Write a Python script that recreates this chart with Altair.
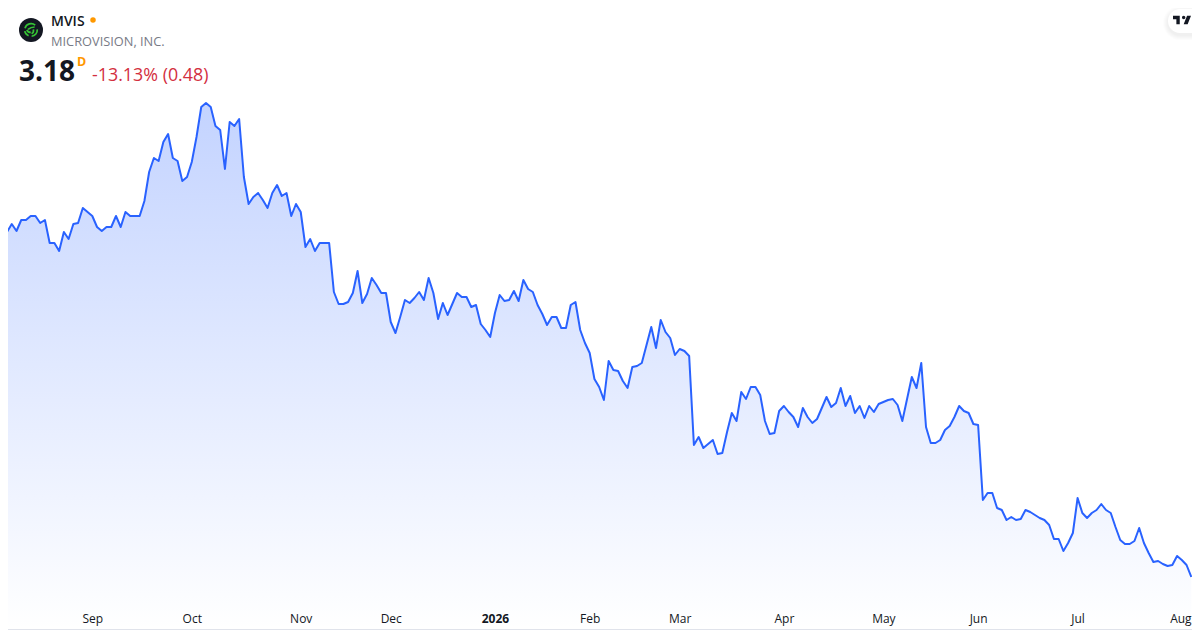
import altair as alt
import pandas as pd

prices = [
16.86,16.98,17.30,17.02,17.46,17.46,17.62,17.62,17.34,17.46,16.54,16.54,16.22,16.98,16.70,17.30,17.34,17.94,17.78,17.62,
17.18,17.02,17.18,17.18,17.62,17.18,17.78,17.62,17.62,17.62,18.22,19.38,19.94,19.82,20.58,20.90,19.94,19.82,19.02,19.18,
19.78,20.78,21.98,22.14,21.98,21.22,21.06,19.50,21.38,21.22,21.50,19.18,18.10,18.38,18.54,18.26,17.94,18.54,18.86,18.42,
18.54,17.62,18.10,17.78,16.38,16.70,16.22,16.54,16.54,16.54,14.58,14.10,14.10,14.18,14.54,15.42,14.14,14.50,15.14,14.86,
14.54,14.54,13.38,12.94,13.58,14.26,14.14,14.34,14.58,14.26,15.14,14.54,13.50,14.14,13.66,14.10,14.54,14.38,14.38,13.98,
14.06,13.30,13.06,12.78,13.74,14.46,14.22,14.26,14.62,14.22,15.06,14.70,14.58,14.06,13.70,13.26,13.58,13.58,13.14,13.14,
14.06,14.18,13.06,12.54,12.14,11.10,10.78,10.26,11.82,11.46,11.42,11.02,10.74,11.58,11.62,11.74,12.46,13.18,12.34,13.46,
12.98,12.74,12.06,12.30,12.22,12.02,8.46,8.78,8.34,8.50,8.66,8.10,8.14,8.98,9.74,9.42,10.58,10.30,10.78,10.78,
10.46,9.42,8.90,8.94,9.82,10.02,9.78,9.58,9.18,9.94,9.58,9.34,9.50,9.94,10.38,9.98,10.14,10.74,10.02,10.42,
9.74,10.02,9.54,10.02,9.78,10.10,10.18,10.26,10.30,10.06,9.42,10.30,11.18,10.74,11.74,9.18,8.54,8.54,8.66,9.06,
9.22,9.58,10.02,9.82,9.74,9.30,9.26,6.26,6.54,6.54,5.94,5.86,5.46,5.58,5.46,5.50,5.86,5.78,5.66,5.54,
5.46,5.26,4.70,4.70,4.22,4.54,4.94,6.34,5.74,5.54,5.74,5.86,6.10,5.86,5.74,5.18,4.66,4.50,4.50,4.62,
5.14,4.54,4.14,3.78,3.82,3.70,3.62,3.66,4.02,3.86,3.66,3.18,
]
tick_positions = [19, 40, 63, 82, 104, 124, 143, 165, 186, 206, 227, 248.7]
tick_labels = ["Sep", "Oct", "Nov", "Dec", "2026", "Feb", "Mar", "Apr", "May", "Jun", "Jul", "Aug"]

FONT = "Open Sans"
W, H = 1200, 630
df = pd.DataFrame({"i": list(range(len(prices))), "p": prices, "base": [1.06] * len(prices)})

label_map = "{" + ",".join(f'"{p}":"{l}"' for p, l in zip(tick_positions, tick_labels)) + "}"
x_scale = alt.Scale(domain=[-0.485, 252.84], nice=False, zero=False)
y_scale = alt.Scale(domain=[1.06, 26.26], nice=False, zero=False)

x_enc = alt.X("i:Q", scale=x_scale, axis=alt.Axis(
    values=tick_positions, title=None, grid=False, domain=False, ticks=False,
    labelExpr=f"{label_map}[datum.value]", labelFont=FONT, labelFontSize=12,
    labelColor="#131722", labelPadding=0, labelFlush=False, labelOverlap=False,
    offset=-17, labelFontWeight=alt.condition("datum.value == 104", alt.value("bold"), alt.value("normal"))))
y_enc = alt.Y("p:Q", scale=y_scale, axis=None)

area = alt.Chart(df).mark_area(
    line=False,
    color=alt.Gradient(gradient="linear", x1=0, x2=0, y1=0, y2=1, stops=[
        alt.GradientStop(color="rgba(41,98,255,0.28)", offset=0),
        alt.GradientStop(color="rgba(41,98,255,0.0)", offset=1),
    ])).encode(x=x_enc, y=y_enc, y2="base:Q")
line = alt.Chart(df).mark_line(color="#2962ff", strokeWidth=2, strokeJoin="round").encode(
    x=alt.X("i:Q", scale=x_scale), y=y_enc)

def txt(s, x, y, size, color, weight="normal", **kw):
    return alt.Chart(pd.DataFrame({"t": [s]})).mark_text(
        font=FONT, fontSize=size, color=color, fontWeight=weight, align="left", baseline="alphabetic", **kw
    ).encode(x=alt.value(x), y=alt.value(y), text="t:N")

def dot(x, y, size, color, **kw):
    return alt.Chart(pd.DataFrame({"a": [0]})).mark_point(filled=True, color=color, size=size, opacity=1, **kw).encode(
        x=alt.value(x), y=alt.value(y))

def box(x, x2, y, y2, **kw):
    return alt.Chart(pd.DataFrame({"a": [0]})).mark_rect(**kw).encode(
        x=alt.value(x), x2=alt.value(x2), y=alt.value(y), y2=alt.value(y2))

border = box(0.5, 1199.5, 0.5, 629.5, fill="transparent", stroke="#e0e3eb", strokeWidth=1, cornerRadius=4)
shadows = [box(1168 - d, 1215, 9 - d + 2, 33 + d + 2, fill="#000000", fillOpacity=0.012, cornerRadius=12 + d) for d in (5, 4, 3, 2, 1)]
pill = box(1168, 1215, 9, 33, fill="white", cornerRadius=12)
tv = alt.Chart(pd.DataFrame({"a": [0]})).mark_point(
    filled=True, color="#131722", opacity=1, size=324,
    shape="M-0.25 -0.469H-1V-0.094H-0.625V0.469H-0.25Z"
          "M0.625 0.469H0.1875L0.5625 -0.469H1Z"
          "M0.1875 -0.094A0.1875 0.1875 0 1 0 0.1875 -0.469A0.1875 0.1875 0 1 0 0.1875 -0.094Z"
).encode(x=alt.value(1182), y=alt.value(20))

logo_bg = dot(31, 30, 576, "#131722", shape="circle")
swirl = alt.Chart(pd.DataFrame({"a": [0]})).mark_point(
    filled=False, color="#35c435", opacity=1, size=576, strokeWidth=1.7,
    shape="M-0.5 -0.15A0.52 0.52 0 0 1 0.35 -0.4"
          "M0.52 -0.05A0.52 0.52 0 0 1 0.05 0.52"
          "M-0.2 0.48A0.52 0.52 0 0 1 -0.52 0.1"
          "M-0.25 -0.05Q0 -0.25 0.3 -0.25"
          "M0.2 -0.05Q0.25 0.2 0.05 0.32"
          "M-0.02 0.2Q-0.25 0.2 -0.35 0"
).encode(x=alt.value(31), y=alt.value(30))

layers = [area, line, border] + shadows + [pill, tv, logo_bg, swirl,
    txt("MVIS", 51, 26, 14, "#131722", 600),
    dot(93, 20, 30, "#ff9800", shape="circle"),
    txt("MICROVISION, INC.", 51, 45.5, 12.8, "#787b86"),
    txt("3.18", 19, 81, 28, "#131722", 700),
    txt("D", 77, 66, 12.5, "#ff9800", 700),
    txt("-13.13% (0.48)", 92, 81, 17.85, "#d32f3f"),
]
chart = alt.layer(*layers).properties(
    width=W, height=H, padding={"left": -8, "top": -8, "right": -8, "bottom": 0},
    autosize=alt.AutoSizeParams(type="none"),
    background="white",
).configure_view(stroke=None)
chart.save("out.html", embed_options={"renderer": "svg", "actions": False})
